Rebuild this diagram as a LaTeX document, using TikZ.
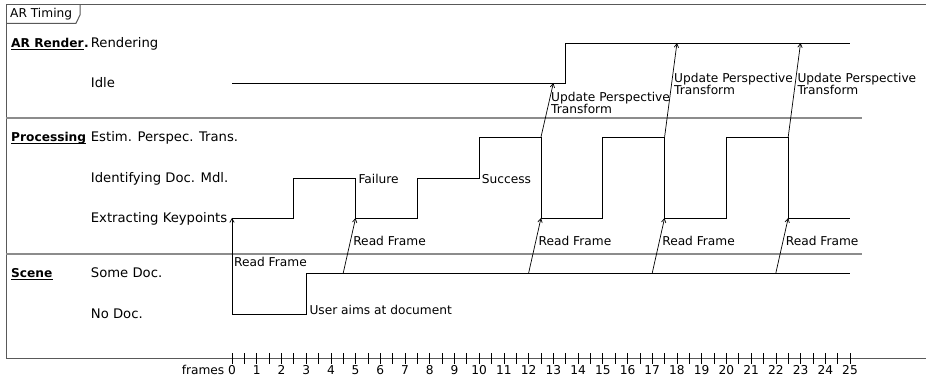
\documentclass[tikz,border=0pt]{standalone}
\usepackage{fontspec}
\setmainfont{DejaVu Sans}
\usetikzlibrary{arrows}

\tikzset{
  lbl/.style={inner sep=0pt, font=\fontsize{12.2}{12.2}\selectfont},
  state/.style={inner sep=0pt, anchor=base west, font=\fontsize{13.2}{14}\selectfont},
  hdr/.style={inner sep=0pt, anchor=base west, font=\fontsize{12.2}{13}\selectfont\bfseries},
  frm/.style={line width=1pt, black!65},
  sep/.style={line width=1.3pt, black!45},
  sig/.style={line width=0.9pt},
  msg/.style={-angle 60, line width=0.7pt},
}

\begin{document}
\begin{tikzpicture}[x=1pt, y=-1pt]
    \useasboundingbox (0,0) rectangle (926,379);

    % frame and title tab
    \draw[frm] (926,5) -- (6,5) -- (6,358) -- (926,358);
    \draw[frm] (6,23.3) -- (76,23.3) -- (80,15) -- (80,5);
    \node[lbl, anchor=base west] (title) at (10,18) {AR Timing};
    \draw[sep] (6,118) -- (862,118);
    \draw[sep] (6,254) -- (862,254);

    % row headers
    \node[hdr] (hdrar) at (11,47.5) {AR Render};
    \node[hdr] (hdrdot) at (hdrar.base east) {.};
    \node[hdr] (hdrproc) at (11,141.7) {Processing};
    \node[hdr] (hdrscene) at (11,277.7) {Scene};
    \foreach \h in {hdrar,hdrproc,hdrscene}{
        \draw[line width=0.9pt] ([yshift=-2pt]\h.base west) -- ([yshift=-2pt]\h.base east);
    }

    % states
    \node[state] (rendering) at (90.7,47.5) {Rendering};
    \node[state] (idle) at (90.7,87.7) {Idle};
    \node[state] (estim) at (90.7,141.7) {Estim. Perspec. Trans.};
    \node[state] (ident) at (90.7,182.7) {Identifying Doc. Mdl.};
    \node[state] (extract) at (90.7,222.9) {Extracting Keypoints};
    \node[state] (somedoc) at (90.7,277.7) {Some Doc.};
    \node[state] (nodoc) at (90.7,318.3) {No Doc.};

    \begin{scope}[xshift=232pt, x=24.72pt]
        % signals
        \draw[sig] (0,83) -- (13.5,83) -- (13.5,43) -- (25,43);
        \draw[sig] (0,218) -- (2.5,218) -- (2.5,178) -- (5,178) -- (5,218) -- (7.5,218) -- (7.5,178)
            -- (10,178) -- (10,137) -- (12.5,137) -- (12.5,218) -- (15,218) -- (15,137) -- (17.5,137)
            -- (17.5,218) -- (20,218) -- (20,137) -- (22.5,137) -- (22.5,218) -- (25,218);
        \draw[sig] (0,314) -- (3,314) -- (3,273) -- (25,273);

        % read frame messages
        \coordinate (rfs0) at (0,314);
        \coordinate (rfe0) at (0,218);
        \draw[msg] (rfs0) -- (rfe0);
        \foreach \a/\b [count=\k] in {4.5/5, 12/12.5, 17/17.5, 22/22.5}{
            \coordinate (rfs\k) at (\a,273);
            \coordinate (rfe\k) at (\b,218);
            \draw[msg] (rfs\k) -- (rfe\k);
            \node[lbl, anchor=base west] (rf\k) at ([xshift=-2.5pt,yshift=-28pt]rfe\k) {Read Frame};
        }

        % perspective updates
        \coordinate (ups1) at (12.5,137);
        \coordinate (upe1) at (13,83);
        \coordinate (ups2) at (17.5,137);
        \coordinate (upe2) at (18,43);
        \coordinate (ups3) at (22.5,137);
        \coordinate (upe3) at (23,43);
        \foreach \k in {1,2,3}{
            \draw[msg] (ups\k) -- (upe\k);
        }

        % axis
        \foreach \i in {0,...,50}{
            \draw[line width=0.7pt] (\i/2,353) -- (\i/2,363.5);
        }
        \foreach \i in {0,...,25}{
            \node[lbl, anchor=base] (tick\i) at (\i,374.5) {\i};
        }
    \end{scope}

    \node[lbl, anchor=base west] (rf0) at (234,267) {Read Frame};
    \node[lbl, anchor=base west] (fail) at (358.3,184) {Failure};
    \node[lbl, anchor=base west] (succ) at (481.7,184) {Success};
    \node[lbl, anchor=base west] (aims) at (309.3,314.5) {User aims at document};
    \node[lbl, anchor=north west, align=left] (up1) at (551,92.3) {Update Perspective\\Transform};
    \node[lbl, anchor=north west, align=left] (up2) at (674,73) {Update Perspective\\Transform};
    \node[lbl, anchor=north west, align=left] (up3) at (797.3,73) {Update Perspective\\Transform};
    \node[lbl, anchor=base east] (frames) at (224.5,374.5) {frames};
\end{tikzpicture}
\end{document}
